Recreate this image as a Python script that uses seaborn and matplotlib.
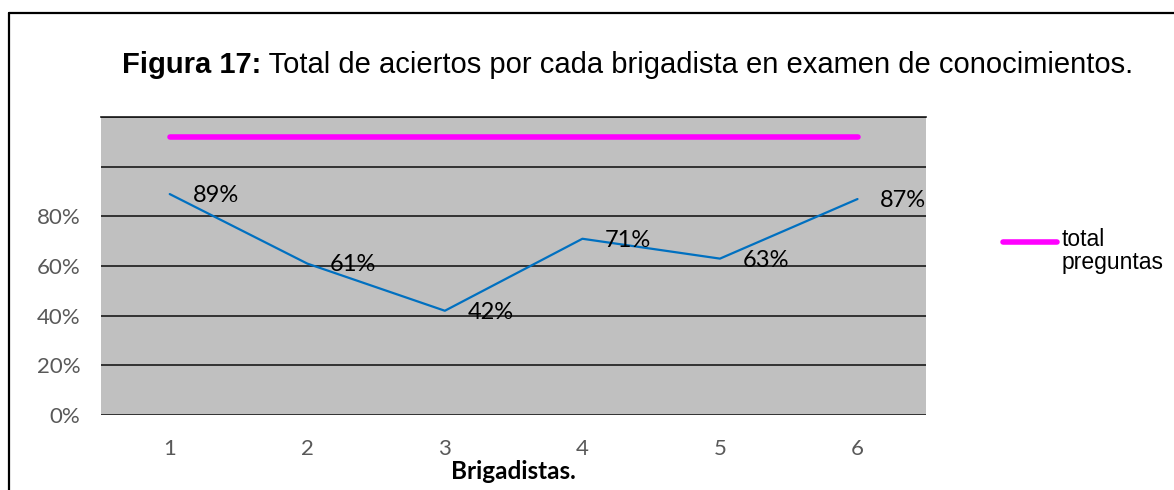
import pandas as pd
import seaborn as sns
import matplotlib.pyplot as plt
from matplotlib.lines import Line2D

# data
brigadistas = [1, 2, 3, 4, 5, 6]
aciertos = [0.89, 0.61, 0.42, 0.71, 0.63, 0.87]
total_preguntas = [1.12] * 6
etiquetas = ['89%', '61%', '42%', '71%', '63%', '87%']
y_ticks = [0, 0.2, 0.4, 0.6, 0.8, 1.0, 1.2]
y_labels = ['0%', '20%', '40%', '60%', '80%', '', '']

df = pd.DataFrame({'brigadista': brigadistas, 'aciertos': aciertos,
                   'total': total_preguntas})

sns.set_style('white')
plt.rcParams['font.family'] = ['Lato', 'DejaVu Sans']

fig = plt.figure(figsize=(11.74, 4.9), dpi=100)
ax = fig.add_axes([0.086, 0.153, 0.703, 0.608])
ax.set_facecolor('#c0c0c0')

sns.lineplot(data=df, x='brigadista', y='total', ax=ax, color='#ff00ff',
             linewidth=4, solid_capstyle='round')
sns.lineplot(data=df, x='brigadista', y='aciertos', ax=ax, color='#0070c0',
             linewidth=1.6)

for x, y, t in zip(df['brigadista'], df['aciertos'], etiquetas):
    ax.annotate(t, (x, y), xytext=(33, -1), textcoords='offset points',
                ha='center', va='center', fontsize=17, color='black')

ax.set_xlim(0.5, 6.5)
ax.set_ylim(0, 1.2)
ax.set_xticks(brigadistas)
ax.set_xticklabels([str(b) for b in brigadistas])
ax.set_yticks(y_ticks)
ax.set_yticklabels(y_labels)
ax.tick_params(length=0, labelsize=16, labelcolor='#595959')
ax.tick_params(axis='x', pad=17)
ax.tick_params(axis='y', pad=15)
ax.grid(axis='y', color='#1a1a1a', linewidth=1.2)
ax.set_axisbelow(True)
for s in ['left', 'right', 'bottom']:
    ax.spines[s].set_visible(False)
ax.spines['top'].set_color('#1a1a1a')
ax.spines['top'].set_linewidth(1.2)
ax.set_ylabel('')
ax.set_xlabel('Brigadistas.', fontsize=17.5, fontweight='bold', labelpad=1,
              color='black')

# title in two parts
t1 = fig.text(122 / 1174, 1 - 65 / 490, 'Figura 17:', fontsize=21,
              fontweight='bold', family='Liberation Sans', va='center',
              color='black')
ax.annotate(' Total de aciertos por cada brigadista en examen de conocimientos.',
            xy=(1, 0), xycoords=t1, va='bottom', fontsize=21,
            family='Liberation Sans', color='black', annotation_clip=False)

# legend
fig.add_artist(Line2D([1003 / 1174, 1057 / 1174], [1 - 242 / 490] * 2,
                      color='#ff00ff', linewidth=4, solid_capstyle='round'))
fig.text(1062 / 1174, 1 - 228 / 490, 'total\npreguntas', fontsize=16.5,
         family='Liberation Sans', va='top', ha='left', linespacing=1.0,
         color='black')

# outer frame
fig.add_artist(Line2D([8.5 / 1174, 8.5 / 1174], [0, 1 - 13 / 490],
                      color='black', linewidth=1.6))
fig.add_artist(Line2D([8.5 / 1174, 1], [1 - 13 / 490] * 2,
                      color='black', linewidth=1.6))

plt.savefig('out.png', dpi=100)
